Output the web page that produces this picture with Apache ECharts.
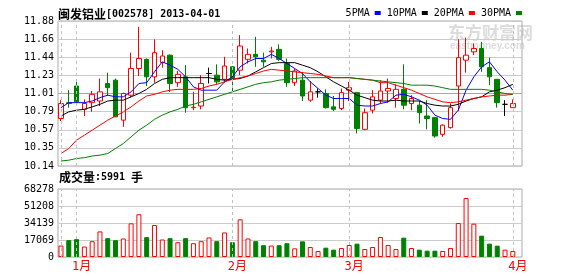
<!DOCTYPE html>
<html><head><meta charset="utf-8">
<script src="https://cdn.jsdelivr.net/npm/echarts@6/dist/echarts.min.js"></script>
<style>html,body{margin:0;padding:0;background:#fff}#c{width:578px;height:276px}</style>
</head><body><div id="c"></div>
<script>
// ---------- data ----------
const stockName = '闽发铝业';
const stockCode = '002578';
const quoteDate = '2013-04-01';

const dates = [
 '2012-12-28','2012-12-31',
 '2013-01-04','2013-01-07','2013-01-08','2013-01-09','2013-01-10','2013-01-11','2013-01-14','2013-01-15','2013-01-16','2013-01-17','2013-01-18','2013-01-21','2013-01-22','2013-01-23','2013-01-24','2013-01-25','2013-01-28','2013-01-29','2013-01-30','2013-01-31',
 '2013-02-01','2013-02-04','2013-02-05','2013-02-06','2013-02-07','2013-02-08','2013-02-18','2013-02-19','2013-02-20','2013-02-21','2013-02-22','2013-02-25','2013-02-26','2013-02-27','2013-02-28',
 '2013-03-01','2013-03-04','2013-03-05','2013-03-06','2013-03-07','2013-03-08','2013-03-11','2013-03-12','2013-03-13','2013-03-14','2013-03-15','2013-03-18','2013-03-19','2013-03-20','2013-03-21','2013-03-22','2013-03-25','2013-03-26','2013-03-27','2013-03-28','2013-03-29',
 '2013-04-01'
];
const openP = [10.71,10.90,11.10,10.82,10.90,10.92,11.13,11.17,10.69,10.99,11.31,11.42,11.21,11.38,11.47,11.14,11.21,10.84,10.86,11.25,
 11.23,11.18,11.33,11.29,11.42,11.48,11.41,11.51,11.54,11.37,11.14,11.17,10.93,11.03,11.01,10.85,10.83,11.05,11.02,10.58,
 10.81,10.93,11.04,10.95,11.06,10.89,10.87,10.74,10.72,10.52,10.60,11.10,11.41,11.51,11.55,11.32,11.18,10.88,10.84];
const closeP = [10.89,10.89,10.91,10.89,11.00,11.03,11.08,10.73,11.01,11.31,11.43,11.21,11.50,11.46,11.13,11.24,10.84,10.845,11.13,11.25,
 11.15,11.34,11.19,11.58,11.48,11.45,11.39,11.52,11.42,11.14,11.28,10.98,11.03,11.03,10.84,10.82,11.02,11.08,10.59,10.78,
 10.97,11.04,11.07,11.06,10.87,10.95,10.78,10.71,10.50,10.63,10.84,11.44,11.47,11.55,11.33,11.21,10.90,10.88,10.89];
const lowP = [10.68,10.84,10.87,10.74,10.79,10.86,10.98,10.73,10.61,10.96,11.22,11.10,11.14,11.32,11.03,11.09,10.78,10.81,10.82,11.13,
 11.12,11.14,11.03,11.23,11.37,11.33,11.33,11.43,11.40,11.09,11.10,10.92,10.91,10.96,10.83,10.80,10.81,10.92,10.53,10.57,
 10.77,10.89,10.90,10.84,10.82,10.81,10.65,10.58,10.48,10.49,10.59,10.80,11.26,11.47,11.27,11.11,10.84,10.74,10.84];
const highP = [10.93,11.05,11.17,10.94,11.04,11.19,11.26,11.19,11.02,11.50,11.81,11.43,11.66,11.53,11.48,11.28,11.35,11.03,11.23,11.32,
 11.36,11.45,11.34,11.71,11.55,11.69,11.50,11.57,11.60,11.43,11.31,11.27,11.16,11.07,11.06,10.98,11.07,11.15,11.03,10.83,
 11.05,11.17,11.19,11.12,11.36,10.99,10.92,10.93,10.73,10.64,10.89,11.66,11.68,11.61,11.63,11.44,11.18,10.93,10.94];
const volumes = [11490,16900,17910,10480,15890,25690,18930,16900,18590,33800,42930,19940,32110,17580,18930,14870,18930,13860,15890,19600,
 15890,24670,14870,37860,18590,15890,11830,11490,11830,13860,8700,15730,10040,6030,9370,7360,9040,12050,13390,8030,
 10040,20080,12050,8030,19410,9040,7360,6360,6360,6030,9040,34140,59240,33470,21420,13390,11380,7360,5991];
const ma5 = [10.84,10.90,10.90,10.90,10.92,10.96,10.99,10.97,10.97,11.03,11.13,11.14,11.27,11.39,11.35,11.30,11.21,11.09,11.05,11.05,
 11.05,11.15,11.21,11.33,11.39,11.43,11.43,11.48,11.43,11.37,11.31,11.25,11.15,11.07,10.99,10.95,10.95,10.95,10.87,10.86,
 10.86,10.89,10.91,10.99,11.00,10.97,10.93,10.87,10.75,10.71,10.70,10.81,11.05,11.21,11.33,11.39,11.27,11.17,11.05];
const ma10 = [10.74,10.79,10.81,10.82,10.85,10.88,10.92,10.93,10.93,10.97,11.01,11.06,11.13,11.18,11.20,11.20,11.20,11.20,11.20,11.20,
 11.18,11.17,11.18,11.19,11.22,11.27,11.32,11.37,11.38,11.38,11.38,11.35,11.32,11.27,11.21,11.15,11.10,11.05,10.99,10.96,
 10.93,10.92,10.92,10.93,10.92,10.92,10.92,10.89,10.87,10.86,10.86,10.88,10.92,10.95,10.97,11.03,11.05,11.08,11.12];
const ma20 = [10.29,10.35,10.45,10.51,10.57,10.63,10.69,10.74,10.79,10.85,10.92,10.98,11.00,11.03,11.05,11.06,11.06,11.06,11.07,11.10,
 11.12,11.15,11.18,11.20,11.22,11.25,11.28,11.30,11.29,11.28,11.27,11.26,11.25,11.24,11.22,11.20,11.20,11.20,11.19,11.18,
 11.17,11.14,11.14,11.11,11.08,11.05,11.01,10.97,10.94,10.91,10.90,10.91,10.93,10.95,10.97,10.98,10.99,10.99,11.00];
const ma30 = [10.20,10.21,10.23,10.24,10.26,10.27,10.29,10.35,10.41,10.49,10.57,10.63,10.70,10.75,10.79,10.82,10.86,10.88,10.91,10.94,
 10.97,11.00,11.03,11.06,11.09,11.12,11.14,11.15,11.17,11.18,11.19,11.20,11.20,11.20,11.20,11.20,11.20,11.20,11.19,11.18,
 11.17,11.16,11.15,11.14,11.13,11.11,11.11,11.11,11.10,11.08,11.06,11.06,11.06,11.06,11.06,11.05,11.03,11.01,11.00];
const priceTicks = ['10.14','10.35','10.57','10.79','11.01','11.23','11.44','11.66','11.88'];
const volumeTicks = ['0','17069','34139','51208','68278'];
const maNames = ['5PMA','10PMA','20PMA','30PMA'];
const monthNames = {'01':'1月','02':'2月','03':'3月','04':'4月','12':'12月'};

// ---------- derived ----------
const mono = '"DejaVu Sans Mono", "Liberation Mono", monospace';
const cjk = '"Noto Sans CJK SC", sans-serif';
const pMin = parseFloat(priceTicks[0]);
const pMax = parseFloat(priceTicks[priceTicks.length - 1]);
const pInt = (pMax - pMin) / (priceTicks.length - 1);
const vMax = parseFloat(volumeTicks[volumeTicks.length - 1]);
const vInt = vMax / (volumeTicks.length - 1);

const lineIdx = [], labelIdx = [];
dates.forEach((d, i) => {
  const m = d.slice(5, 7);
  if (i === 0) { lineIdx.push(i); return; }
  if (m !== dates[i - 1].slice(5, 7)) { lineIdx.push(i); labelIdx.push(i); }
});
const xMin = -0.385, xMax = dates.length + 0.18;

const candleData = dates.map((d, i) => [i, openP[i], closeP[i], lowP[i], highP[i]]);
const upStyle = { color: '#fff', borderColor: '#ff0000', borderWidth: 1 };
const downStyle = { color: '#008000', borderColor: '#008000', borderWidth: 1 };
const volData = dates.map((d, i) => ({ value: [i, volumes[i]], itemStyle: closeP[i] >= openP[i] ? upStyle : downStyle }));
const maData = [ma5, ma10, ma20, ma30];
const maColors = ['#0000ff', '#000000', '#ff0000', '#008000'];

const monthLine = {
  silent: true, symbol: ['none', 'none'], label: { show: false },
  lineStyle: { color: '#c0c0c0', type: [3, 3], width: 1 },
  data: lineIdx.map(i => ({ xAxis: i }))
};
const gridLineColors = priceTicks.map((t, k) => k === 4 ? '#a8a8a8' : '#cccccc');

const chart = echarts.init(document.getElementById('c'), null, { renderer: 'canvas' });
chart.setOption({
  animation: false,
  backgroundColor: '#fff',
  title: [
    { left: 58, top: 7, padding: 0,
      text: '{a|' + stockName + '}{b|[' + stockCode + '] ' + quoteDate + '}',
      textStyle: { lineHeight: 14, rich: {
        a: { fontFamily: cjk, fontSize: 12, color: '#000', lineHeight: 14 },
        b: { fontFamily: mono, fontSize: 10, color: '#000', lineHeight: 14 } } } },
    { left: 59, top: 170, padding: 0,
      text: '{a|成交量}{b|:' + volumes[volumes.length - 1] + ' }{a|手}',
      textStyle: { lineHeight: 14, rich: {
        a: { fontFamily: cjk, fontSize: 12, color: '#000', lineHeight: 14 },
        b: { fontFamily: mono, fontSize: 10, color: '#000', lineHeight: 14 } } } }
  ],
  legend: {
    right: 56, top: 8, padding: 0, itemWidth: 6, itemHeight: 4, itemGap: 6, align: 'right', icon: 'rect',
    textStyle: { fontFamily: mono, fontSize: 10, color: '#000' },
    data: maNames
  },
  graphic: [
    { type: 'text', x: 448, y: 24, z: -10, silent: true,
      style: { text: '东方财富网', font: 'bold 17px "Noto Sans CJK SC"', fill: '#dcdcdc' } },
    { type: 'text', x: 450, y: 41, z: -10, silent: true,
      style: { text: 'eastmoney.com', font: 'bold 10px "Liberation Sans"', fill: '#dcdcdc' } }
  ],
  grid: [
    { left: 58, top: 21, width: 464, height: 145, show: true, borderColor: '#aaaaaa', borderWidth: 1, outerBoundsMode: 'none' },
    { left: 58, top: 189, width: 464, height: 68, show: true, borderColor: '#aaaaaa', borderWidth: 1, outerBoundsMode: 'none' }
  ],
  xAxis: [
    { gridIndex: 0, type: 'value', min: xMin, max: xMax,
      axisLine: { show: false }, axisTick: { show: false }, axisLabel: { show: false }, splitLine: { show: false } },
    { gridIndex: 1, type: 'value', min: xMin, max: xMax,
      axisLine: { show: false }, axisTick: { show: false }, splitLine: { show: false },
      axisLabel: { show: true, customValues: labelIdx, margin: 4, color: '#ff0000',
        fontFamily: '"DejaVu Sans Mono", "Noto Sans CJK SC"', fontSize: 12, align: 'center', padding: [0, 0, 0, 10],
        formatter: v => monthNames[dates[Math.round(v)].slice(5, 7)] } }
  ],
  yAxis: [
    { gridIndex: 0, type: 'value', min: pMin, max: pMax, interval: pInt, scale: true,
      axisLine: { show: false }, axisTick: { show: false },
      axisLabel: { margin: 4, color: '#000', fontFamily: mono, fontSize: 10,
        formatter: v => priceTicks[Math.round((v - pMin) / pInt)] || '' },
      splitLine: { show: true, lineStyle: { color: gridLineColors, width: 1 } } },
    { gridIndex: 1, type: 'value', min: 0, max: vMax, interval: vInt,
      axisLine: { show: false }, axisTick: { show: false },
      axisLabel: { margin: 4, color: '#000', fontFamily: mono, fontSize: 10,
        formatter: v => volumeTicks[Math.round(v / vInt)] || '' },
      splitLine: { show: true, lineStyle: { color: '#cccccc', width: 1 } } }
  ],
  series: [
    { type: 'candlestick', name: 'K', xAxisIndex: 0, yAxisIndex: 0, data: candleData, barWidth: 5, z: 3,
      itemStyle: { color: '#ffffff', color0: '#008000', borderColor: '#ff0000', borderColor0: '#008000',
        borderColorDoji: '#000000', borderWidth: 1 },
      markLine: monthLine },
    ...maNames.map((n, k) => ({
      type: 'line', name: n, xAxisIndex: 0, yAxisIndex: 0, symbol: 'none', showSymbol: false, silent: true, z: 4,
      data: maData[k].map((v, i) => [i, v]),
      lineStyle: { width: 1, color: maColors[k] }, itemStyle: { color: maColors[k] }
    })),
    { type: 'bar', name: 'VOL', xAxisIndex: 1, yAxisIndex: 1, data: volData, barWidth: 5, z: 3,
      markLine: monthLine }
  ]
});
</script></body></html>
